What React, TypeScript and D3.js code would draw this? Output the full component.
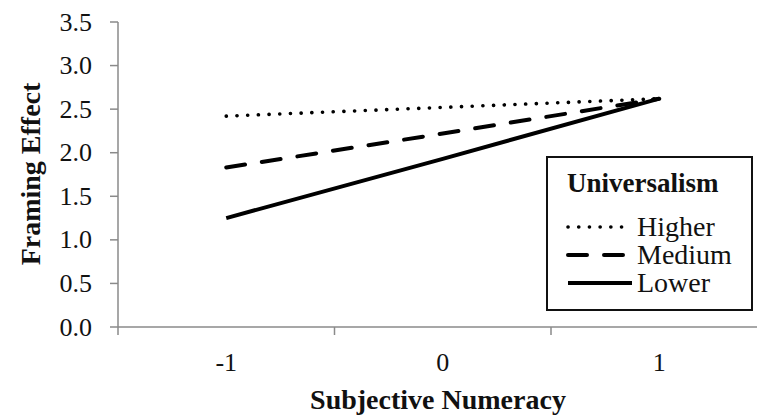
import React from "react";
import * as d3 from "d3";

const categories = ["-1", "0", "1"];
const higher = [2.42, 2.52, 2.62];
const medium = [1.83, 2.22, 2.62];
const lower = [1.25, 1.93, 2.62];
const yTicks = [0, 0.5, 1, 1.5, 2, 2.5, 3, 3.5];

const series = [
  { name: "Higher", values: higher, dash: "0.1 10.6", width: 3.6, cap: "round" },
  { name: "Medium", values: medium, dash: "19 17", width: 4, cap: "round" },
  { name: "Lower", values: lower, dash: null, width: 4, cap: "butt" },
];

const W = 757;
const H = 416;
const FONT = "Liberation Serif";

export default function App() {
  const left = 118;
  const top = 22;
  const bottom = 327;

  const x = d3.scaleBand<string>().domain(categories).range([left, left + 3 * 216.5]);
  const y = d3.scaleLinear().domain([0, 3.5]).range([bottom, top]);
  const cx = (c: string) => (x(c) as number) + x.bandwidth() / 2;

  const line = d3
    .line<number>()
    .x((_, i) => cx(categories[i]))
    .y((d) => y(d));

  const axisColor = "#8a8a8a";
  const legend = { x: 547, y: 157, w: 205, h: 153 };
  const txt = { fontFamily: FONT };

  return (
    <svg
      width={W}
      height={H}
      style={{ position: "absolute", left: 0, top: 0, background: "#fff", fontFamily: FONT }}
    >
      {/* y axis */}
      <line x1={left} x2={left} y1={top} y2={bottom} stroke={axisColor} strokeWidth={1.5} />
      {yTicks.map((t) => (
        <g key={t}>
          <line x1={left - 8} x2={left} y1={y(t)} y2={y(t)} stroke={axisColor} strokeWidth={1.5} />
          <text x={92} y={y(t)} dy="0.33em" textAnchor="end" fontSize={26} fill="#111" style={txt}>
            {d3.format(".1f")(t)}
          </text>
        </g>
      ))}

      {/* x axis */}
      <line x1={left} x2={W} y1={bottom} y2={bottom} stroke={axisColor} strokeWidth={1.5} />
      {categories.map((c) => (
        <g key={c}>
          <line
            x1={x(c) as number}
            x2={x(c) as number}
            y1={bottom}
            y2={bottom + 8}
            stroke={axisColor}
            strokeWidth={1.5}
          />
          <text x={cx(c)} y={371} textAnchor="middle" fontSize={26} fill="#111" style={txt}>
            {c}
          </text>
        </g>
      ))}

      {/* axis titles */}
      <text
        transform={`translate(40,174) rotate(-90)`}
        textAnchor="middle"
        fontSize={28}
        fontWeight="bold"
        fill="#111"
        style={txt}
      >
        Framing Effect
      </text>
      <text x={438} y={409} textAnchor="middle" fontSize={28} fontWeight="bold" fill="#111" style={txt}>
        Subjective Numeracy
      </text>

      {/* lines */}
      {series.map((s) => (
        <path
          key={s.name}
          d={line(s.values) as string}
          fill="none"
          stroke="#000"
          strokeWidth={s.width}
          strokeDasharray={s.dash ?? undefined}
          strokeLinecap={s.cap as any}
        />
      ))}

      {/* legend */}
      <rect
        x={legend.x}
        y={legend.y}
        width={legend.w}
        height={legend.h}
        fill="#fff"
        stroke="#111"
        strokeWidth={2}
      />
      <text x={567} y={192} fontSize={27} fontWeight="bold" fill="#111" style={txt}>
        Universalism
      </text>
      {series.map((s, i) => {
        const ly = 227 + i * 28;
        return (
          <g key={s.name}>
            <line
              x1={568}
              x2={632}
              y1={ly}
              y2={ly}
              stroke="#000"
              strokeWidth={s.width}
              strokeDasharray={s.dash ?? undefined}
              strokeLinecap={s.cap as any}
            />
            <text x={637} y={ly + 9} fontSize={28} fill="#111" style={txt}>
              {s.name}
            </text>
          </g>
        );
      })}
    </svg>
  );
}
